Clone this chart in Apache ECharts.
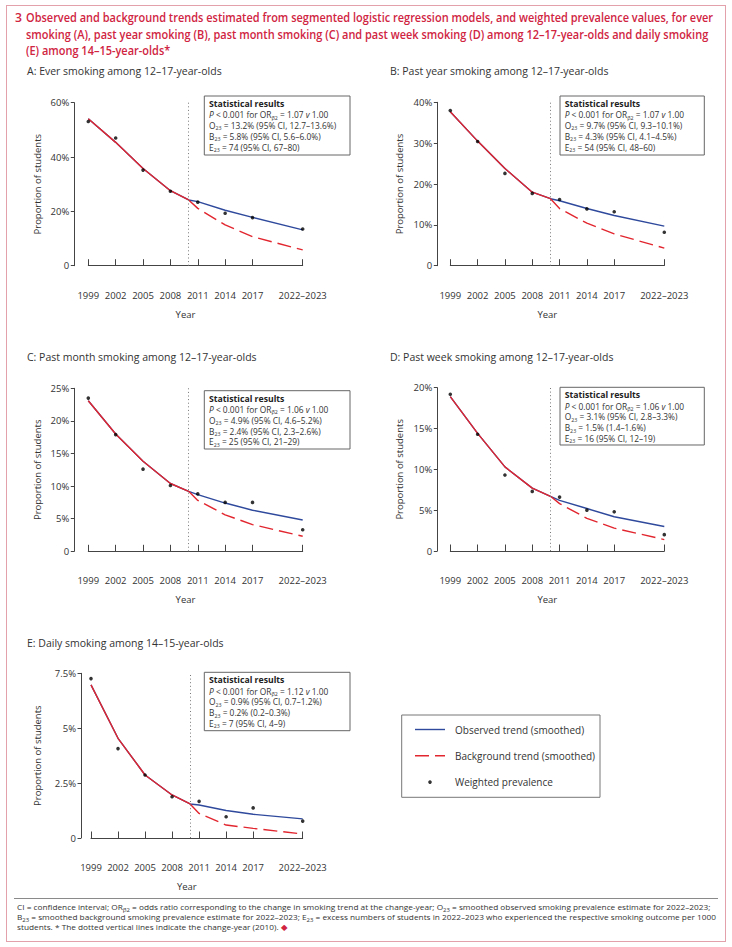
<!DOCTYPE html>
<html><head><meta charset="utf-8">
<script src="https://cdn.jsdelivr.net/npm/echarts@6/dist/echarts.min.js"></script>
<style>
html,body{margin:0;padding:0;background:#fff;width:732px;height:947px;overflow:hidden;}
#frame{position:absolute;left:6px;top:5px;width:718px;height:935px;border:1.4px solid #e3a1ac;box-sizing:content-box;}
#chart{position:absolute;left:0;top:0;width:732px;height:947px;}
#title{position:absolute;left:15px;top:10px;color:#d0243f;font-family:"Open Sans",sans-serif;font-weight:600;font-size:12.2px;line-height:16.6px;z-index:2;}
#title .num{position:absolute;left:0;top:0;}
#title .lines{position:absolute;left:11px;top:0;white-space:nowrap;transform-origin:0 0;}
#sep{position:absolute;left:14px;top:898px;width:704px;height:0;border-top:1px solid #8a8a8a;}
#foot{position:absolute;left:17px;top:902px;font-family:"Open Sans",sans-serif;font-size:7.8px;line-height:10px;color:#333;z-index:2;transform-origin:0 0;}
#foot div{text-align:justify;text-align-last:justify;white-space:nowrap;}
#foot div.last{text-align-last:left;}
#foot span.m{display:inline-block;}
#foot sub{font-size:5.6px;vertical-align:-1.5px;line-height:0;}
.dia{color:#d0243f;}
</style>
</head><body>
<div id="frame"></div>
<div id="chart"></div>
<div id="title"><span class="num">3</span><div class="lines" id="tlines">Observed and background trends estimated from segmented logistic regression models, and weighted prevalence values, for ever<br>smoking (A), past year smoking (B), past month smoking (C) and past week smoking (D) among 12–17-year-olds and daily smoking<br>(E) among 14–15-year-olds*</div></div>
<div id="sep"></div>
<div id="foot">
<div><span class="m">CI = confidence interval; OR<sub>β2</sub> = odds ratio corresponding to the change in smoking trend at the change-year; O<sub>23</sub> = smoothed observed smoking prevalence estimate for 2022–2023;</span></div>
<div><span class="m">B<sub>23</sub> = smoothed background smoking prevalence estimate for 2022–2023; E<sub>23</sub> = excess numbers of students in 2022–2023 who experienced the respective smoking outcome per 1000</span></div>
<div class="last">students. * The dotted vertical lines indicate the change-year (2010). <span class="dia">◆</span></div>
</div>
<script>
// ---------- data ----------
const yearTicks = [1999, 2002, 2005, 2008, 2011, 2014, 2017, 2022.5];
const yearLabels = ['1999', '2002', '2005', '2008', '2011', '2014', '2017', '2022–2023'];
const surveyYears = [1999, 2002, 2005, 2008, 2011, 2014, 2017, 2022.5];
const trendYears = [1999, 2002, 2005, 2008, 2010, 2011, 2014, 2017, 2022.5];
const backgroundYears = [2010, 2011, 2014, 2017, 2022.5];
const changeYear = 2010;

const prevalenceA = [53.1, 47.0, 35.2, 27.4, 23.4, 19.3, 17.7, 13.5];
const observedA   = [54.1, 45.4, 35.8, 27.6, 24.2, 23.6, 20.4, 17.8, 13.2];
const backgroundA = [24.2, 21.1, 15.0, 10.7, 5.8];

const prevalenceB = [38.0, 30.4, 22.6, 17.7, 16.2, 13.9, 13.2, 8.2];
const observedB   = [37.7, 30.5, 23.8, 18.0, 16.4, 15.9, 14.0, 12.3, 9.7];
const backgroundB = [16.4, 14.0, 10.4, 7.8, 4.3];

const prevalenceC = [23.5, 17.9, 12.6, 10.1, 8.8, 7.5, 7.5, 3.3];
const observedC   = [23.1, 18.0, 13.8, 10.4, 9.2, 8.7, 7.4, 6.3, 4.8];
const backgroundC = [9.2, 7.8, 5.6, 4.1, 2.3];

const prevalenceD = [19.2, 14.3, 9.3, 7.3, 6.6, 5.0, 4.8, 2.0];
const observedD   = [18.9, 14.4, 10.3, 7.7, 6.7, 6.2, 5.2, 4.2, 3.0];
const backgroundD = [6.7, 5.8, 4.0, 2.8, 1.4];

const prevalenceE = [7.26, 4.07, 2.87, 1.88, 1.67, 0.97, 1.37, 0.77];
const observedE   = [6.97, 4.54, 2.87, 1.96, 1.55, 1.50, 1.25, 1.08, 0.87];
const backgroundE = [1.55, 1.12, 0.59, 0.44, 0.18];

const panelTitles = [
  'A: Ever smoking among 12–17-year-olds',
  'B: Past year smoking among 12–17-year-olds',
  'C: Past month smoking among 12–17-year-olds',
  'D: Past week smoking among 12–17-year-olds',
  'E: Daily smoking among 14–15-year-olds'
];
const yMaxes = [60, 40, 25, 20, 7.5];
const yIntervals = [20, 10, 5, 5, 2.5];

const statsA = ['{b|Statistical results}', '{i|P} < 0.001 for OR{s|β2} = 1.07 {i|v} 1.00', 'O{s|23} = 13.2% (95% CI, 12.7–13.6%)', 'B{s|23} = 5.8% (95% CI, 5.6–6.0%)', 'E{s|23} = 74 (95% CI, 67–80)'];
const statsB = ['{b|Statistical results}', '{i|P} < 0.001 for OR{s|β2} = 1.07 {i|v} 1.00', 'O{s|23} = 9.7% (95% CI, 9.3–10.1%)', 'B{s|23} = 4.3% (95% CI, 4.1–4.5%)', 'E{s|23} = 54 (95% CI, 48–60)'];
const statsC = ['{b|Statistical results}', '{i|P} < 0.001 for OR{s|β2} = 1.06 {i|v} 1.00', 'O{s|23} = 4.9% (95% CI, 4.6–5.2%)', 'B{s|23} = 2.4% (95% CI, 2.3–2.6%)', 'E{s|23} = 25 (95% CI, 21–29)'];
const statsD = ['{b|Statistical results}', '{i|P} < 0.001 for OR{s|β2} = 1.06 {i|v} 1.00', 'O{s|23} = 3.1% (95% CI, 2.8–3.3%)', 'B{s|23} = 1.5% (1.4–1.6%)', 'E{s|23} = 16 (95% CI, 12–19)'];
const statsE = ['{b|Statistical results}', '{i|P} < 0.001 for OR{s|β2} = 1.12 {i|v} 1.00', 'O{s|23} = 0.9% (95% CI, 0.7–1.2%)', 'B{s|23} = 0.2% (0.2–0.3%)', 'E{s|23} = 7 (95% CI, 4–9)'];

const legendNames = ['Observed trend (smoothed)', 'Background trend (smoothed)', 'Weighted prevalence'];

// ---------- layout ----------
const FONT = '"Open Sans", sans-serif';
const BLUE = '#2f4a9c';
const RED = '#e2262f';
const AX = '#444';
const TXT = '#333';

const layout = [
  {grid:{left:88.3, top:102.7, width:214.4, height:163}, yOff:14, xOff:14.3, nameGap:31.5, box:[204.3,96,145.7,59], title:[27,72]},
  {grid:{left:450.3, top:102.3, width:214, height:163.4}, yOff:13, xOff:14.3, nameGap:33, box:[560,96,144.3,59], title:[390,72]},
  {grid:{left:88.3, top:388.3, width:214.4, height:163}, yOff:14, xOff:13.7, nameGap:31.5, box:[204.3,390.7,145.7,58.3], title:[27,358.3]},
  {grid:{left:450.3, top:387.7, width:214, height:163.3}, yOff:13, xOff:14, nameGap:33, box:[560,387.3,144.3,57.7], title:[390,358.3]},
  {grid:{left:91, top:673.3, width:211.7, height:164.7}, yOff:10, xOff:14.3, nameGap:39, box:[204.3,672.3,145.7,58.4], title:[27,644]}
];
const prevalences = [prevalenceA, prevalenceB, prevalenceC, prevalenceD, prevalenceE];
const observeds = [observedA, observedB, observedC, observedD, observedE];
const backgrounds = [backgroundA, backgroundB, backgroundC, backgroundD, backgroundE];
const stats = [statsA, statsB, statsC, statsD, statsE];

const zip = (xs, ys) => ys.map((y, i) => [xs[i], y]);

const grids = [], xAxes = [], yAxes = [], series = [], titles = [], graphics = [];
layout.forEach((p, i) => {
  grids.push(Object.assign({containLabel:false}, p.grid));
  titles.push({text: panelTitles[i], left: p.title[0], top: p.title[1] - 7, padding: 0,
    textStyle:{fontFamily:FONT, fontSize:10.5, fontWeight:'normal', color:TXT}});
  xAxes.push({
    gridIndex:i, type:'value', min:1999, max:2022.5, offset:p.xOff,
    axisLine:{show:true, lineStyle:{color:AX, width:1}},
    axisTick:{show:true, inside:true, length:6.5, customValues:yearTicks, lineStyle:{color:AX, width:1}},
    axisLabel:{customValues:yearTicks, formatter:v => yearLabels[yearTicks.indexOf(v)], fontFamily:FONT, fontSize:9.5, color:TXT, margin:10},
    splitLine:{show:false},
    name:'Year', nameLocation:'middle', nameGap:29,
    nameTextStyle:{fontFamily:FONT, fontSize:9.5, color:TXT, padding:[0,20,0,0]}
  });
  yAxes.push({
    gridIndex:i, type:'value', min:0, max:yMaxes[i], interval:yIntervals[i], offset:p.yOff,
    axisLine:{show:true, lineStyle:{color:AX, width:1}},
    axisTick:{show:true, length:3.5, lineStyle:{color:AX, width:1}},
    axisLabel:{formatter:v => v === 0 ? '0' : v + '%', fontFamily:FONT, fontSize:9.5, color:TXT, margin:5},
    splitLine:{show:false},
    name:'Proportion of students', nameLocation:'middle', nameGap:p.nameGap,
    nameTextStyle:{fontFamily:FONT, fontSize:9.5, color:TXT}
  });
  const obs = observeds[i];
  const preIdx = trendYears.indexOf(changeYear) + 1;
  series.push({
    name:legendNames[0], type:'line', xAxisIndex:i, yAxisIndex:i,
    data: zip(trendYears, obs), symbol:'none', showSymbol:false,
    lineStyle:{color:BLUE, width:1.4}, itemStyle:{color:BLUE}, z:2, silent:true,
    markLine:{silent:true, symbol:'none', label:{show:false},
      lineStyle:{type:[1,2.6], color:'#777', width:1}, data:[{xAxis:changeYear}]}
  });
  series.push({
    name:legendNames[1], type:'line', xAxisIndex:i, yAxisIndex:i,
    data: zip(backgroundYears, backgrounds[i]), symbol:'none', showSymbol:false,
    lineStyle:{color:RED, width:1.4, type:[14,6]}, itemStyle:{color:RED}, z:3, silent:true
  });
  series.push({
    name:'Background trend (before change-year)', type:'line', xAxisIndex:i, yAxisIndex:i,
    data: zip(trendYears.slice(0, preIdx), obs.slice(0, preIdx)), symbol:'none', showSymbol:false,
    lineStyle:{color:RED, width:1.4}, itemStyle:{color:RED}, z:3, silent:true
  });
  series.push({
    name:legendNames[2], type:'scatter', xAxisIndex:i, yAxisIndex:i,
    data: zip(surveyYears, prevalences[i]), symbol:'circle', symbolSize:3.6,
    itemStyle:{color:'#000'}, z:5, silent:true
  });
  const b = p.box;
  graphics.push({type:'group', x:b[0], y:b[1], silent:true, children:[
    {type:'rect', shape:{x:0, y:0, width:b[2], height:b[3]}, style:{fill:'#fff', stroke:'#666', lineWidth:1}},
    {type:'text', x:4.7, y:2.6, style:{
      text: stats[i].join('\n'), fontFamily:FONT, fontSize:8.4, lineHeight:10.8, fill:TXT,
      rich:{
        b:{fontFamily:FONT, fontSize:8.7, fontWeight:'bold', lineHeight:10.8, fill:'#222'},
        i:{fontFamily:FONT, fontSize:8.4, fontStyle:'italic', lineHeight:10.8, fill:TXT},
        s:{fontFamily:FONT, fontSize:5.3, lineHeight:6.5, verticalAlign:'bottom', fill:TXT}
      }}}
  ]});
});

// legend box
graphics.push({type:'rect', silent:true, shape:{x:401.7, y:715, width:198.3, height:82.3}, style:{fill:'none', stroke:'#777', lineWidth:1}});

const chart = echarts.init(document.getElementById('chart'), null, {renderer:'svg'});
chart.setOption({
  animation:false,
  title: titles,
  grid: grids,
  xAxis: xAxes,
  yAxis: yAxes,
  legend:{
    data:[
      {name:legendNames[0], icon:'path://M0,0H30V1.4H0Z'},
      {name:legendNames[1], icon:'path://M0,0H14V1.4H0ZM20,0H30V1.4H20Z'},
      {name:legendNames[2], icon:'circle'}
    ],
    orient:'vertical', left:415, top:724.5,
    itemWidth:30, itemHeight:3.6, itemGap:16.3, selectedMode:false, padding:0,
    textStyle:{fontFamily:FONT, fontSize:10, color:TXT, padding:[0,0,0,5]}
  },
  graphic: graphics,
  series: series
});

// fit title and footnote widths to the reference line lengths
(function(){
  const el = document.getElementById('tlines');
  const s = 687 / el.scrollWidth;
  el.style.transform = 'scaleX(' + s.toFixed(4) + ')';
  const foot = document.getElementById('foot');
  let maxW = 0;
  foot.querySelectorAll('span.m').forEach(sp => { maxW = Math.max(maxW, sp.getBoundingClientRect().width); });
  foot.style.width = Math.ceil(maxW) + 'px';
  foot.style.transform = 'scaleX(' + (700 / Math.ceil(maxW)).toFixed(4) + ')';
})();
</script>
</body></html>
